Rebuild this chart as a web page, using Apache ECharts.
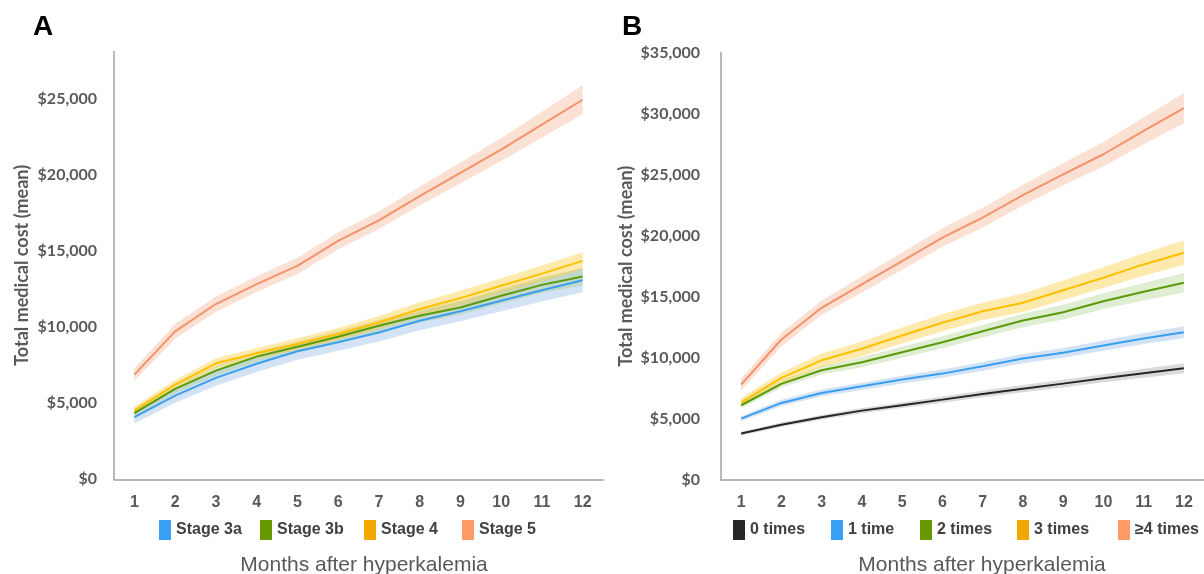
<!DOCTYPE html>
<html>
<head>
<meta charset="utf-8">
<script src="https://cdn.jsdelivr.net/npm/echarts@6/dist/echarts.min.js"></script>
<style>
html,body{margin:0;padding:0;background:#fff;}
#chart{width:1204px;height:574px;}
</style>
</head>
<body>
<div id="chart"></div>
<script>
// ---------- DATA ----------
const months = ['1','2','3','4','5','6','7','8','9','10','11','12'];
const yTicksA = [0, 5000, 10000, 15000, 20000, 25000];
const yTicksB = [0, 5000, 10000, 15000, 20000, 25000, 30000, 35000];

// Panel A: CKD stage
const stageNames = ['Stage 3a', 'Stage 3b', 'Stage 4', 'Stage 5'];
const stage3a = [4090, 5510, 6670, 7600, 8420, 9010, 9660, 10430, 11050, 11750, 12440, 13100];
const stage3b = [4350, 5950, 7150, 8070, 8720, 9380, 10100, 10760, 11300, 12070, 12790, 13340];
const stage4  = [4530, 6230, 7630, 8290, 8900, 9560, 10320, 11200, 11920, 12730, 13530, 14370];
const stage5  = [6890, 9730, 11530, 12840, 14040, 15680, 17040, 18630, 20160, 21690, 23330, 24970];
const ci3a = [420, 480, 520, 540, 560, 560, 600, 620, 650, 700, 750, 800];
const ci3b = [250, 300, 330, 350, 380, 400, 420, 450, 480, 500, 530, 560];
const ci4  = [260, 300, 330, 350, 380, 400, 420, 450, 480, 500, 530, 560];
const ci5  = [400, 480, 500, 520, 540, 550, 580, 620, 680, 750, 850, 960];

// Panel B: number of hyperkalemia episodes
const episodeNames = ['0 times', '1 time', '2 times', '3 times', '≥4 times'];
const times0 = [3800, 4530, 5130, 5680, 6120, 6580, 7050, 7480, 7890, 8330, 8740, 9150];
const times1 = [5020, 6310, 7130, 7670, 8220, 8710, 9310, 9940, 10410, 11010, 11580, 12100];
const times2 = [6120, 7870, 8990, 9640, 10460, 11280, 12180, 13060, 13740, 14640, 15410, 16150];
const times3 = [6360, 8360, 9800, 10740, 11830, 12870, 13820, 14510, 15540, 16560, 17650, 18610];
const times4 = [7810, 11500, 14100, 16010, 17920, 19840, 21480, 23330, 25030, 26670, 28580, 30440];
const ciT0 = [150, 170, 190, 210, 230, 250, 270, 290, 310, 330, 360, 400];
const ciT1 = [200, 250, 280, 300, 320, 340, 360, 380, 400, 420, 450, 480];
const ciT2 = [250, 300, 350, 400, 450, 500, 520, 550, 600, 650, 720, 800];
const ciT3 = [350, 450, 550, 600, 650, 700, 720, 750, 800, 850, 920, 1000];
const ciT4 = [480, 550, 600, 650, 700, 750, 800, 850, 900, 1000, 1100, 1230];

// ---------- STYLE ----------
const C = {
  blue:   {line:'#3A9FF0', legend:'#3AA0F5', band:'rgba(120,170,225,0.33)'},
  green:  {line:'#5B9B0A', legend:'#669900', band:'rgba(150,195,110,0.30)'},
  yellow: {line:'#FFC000', legend:'#F0A800', band:'rgba(255,205,60,0.42)'},
  salmon: {line:'#F4926A', legend:'#FF9966', band:'rgba(242,160,120,0.32)'},
  black:  {line:'#262626', legend:'#262626', band:'rgba(150,150,150,0.35)'}
};

function fmtMoney(v){
  return '$' + String(v).replace(/\B(?=(\d{3})+(?!\d))/g, ',');
}

function makeSeries(name, mean, ci, col, idx){
  return [
    {
      name: name + ' lower', type:'line', xAxisIndex:idx, yAxisIndex:idx,
      stack: 'band-' + name, data: mean.map((m,i)=>m-ci[i]),
      symbol:'none', lineStyle:{opacity:0}, silent:true, z:1, animation:false
    },
    {
      name: name + ' band', type:'line', xAxisIndex:idx, yAxisIndex:idx,
      stack: 'band-' + name, data: ci.map(c=>2*c),
      symbol:'none', lineStyle:{opacity:0}, areaStyle:{color:col.band, opacity:1},
      silent:true, z:1, animation:false
    },
    {
      name: name, type:'line', xAxisIndex:idx, yAxisIndex:idx, data: mean,
      symbol:'none', lineStyle:{width:2, color:col.line}, itemStyle:{color:col.legend},
      z:3, animation:false
    }
  ];
}

const groupA = [
  [stageNames[0], stage3a, ci3a, C.blue],
  [stageNames[1], stage3b, ci3b, C.green],
  [stageNames[2], stage4,  ci4,  C.yellow],
  [stageNames[3], stage5,  ci5,  C.salmon]
];
const groupB = [
  [episodeNames[0], times0, ciT0, C.black],
  [episodeNames[1], times1, ciT1, C.blue],
  [episodeNames[2], times2, ciT2, C.green],
  [episodeNames[3], times3, ciT3, C.yellow],
  [episodeNames[4], times4, ciT4, C.salmon]
];

let series = [];
groupA.forEach(g => series = series.concat(makeSeries(g[0], g[1], g[2], g[3], 0)));
groupB.forEach(g => series = series.concat(makeSeries(g[0], g[1], g[2], g[3], 1)));

const legendText = {fontFamily:'"Liberation Sans", Arial, sans-serif', fontWeight:'bold', fontSize:16, color:'#404040'};
const legendLeftA = [159, 260, 364, 462];
const legendLeftB = [733, 831, 920, 1017, 1118];
const legends = [];
groupA.forEach((g,i) => legends.push({
  data:[{name:g[0], icon:'rect'}], left:legendLeftA[i], top:520, padding:0,
  itemWidth:12, itemHeight:20, selectedMode:false, textStyle:legendText
}));
groupB.forEach((g,i) => legends.push({
  data:[{name:g[0], icon:'rect'}], left:legendLeftB[i], top:520, padding:0,
  itemWidth:12, itemHeight:20, selectedMode:false, textStyle:legendText
}));

const axisLineStyle = {show:true, lineStyle:{color:'#A0A0A0', width:1.5}};
const xLabel = {fontFamily:'"Liberation Sans", Arial, sans-serif', fontWeight:'bold', fontSize:16, color:'#595959', margin:15};
const yLabelFont = {fontFamily:'Lato, "Open Sans", sans-serif', fontWeight:'bold', fontSize:16, color:'#595959'};
const yNameFont = {fontFamily:'Lato, "Open Sans", sans-serif', fontWeight:'bold', fontSize:18, color:'#595959'};

function yFormatter(ticks){
  return v => ticks.indexOf(v) >= 0 ? fmtMoney(v) : '';
}

const option = {
  backgroundColor:'#ffffff',
  animation:false,
  grid:[
    {left:114, right:601, top:51.4, bottom:94.7, containLabel:false},
    {left:721, right:-14, top:52.5, bottom:94, containLabel:false}
  ],
  xAxis:[
    {type:'category', gridIndex:0, data:months, boundaryGap:true, axisLine:axisLineStyle,
     axisTick:{show:false}, axisLabel:xLabel, splitLine:{show:false}},
    {type:'category', gridIndex:1, data:months, boundaryGap:true, axisLine:axisLineStyle,
     axisTick:{show:false}, axisLabel:xLabel, splitLine:{show:false}}
  ],
  yAxis:[
    {type:'value', gridIndex:0, min:0, max:28150, interval:5000,
     axisLine:axisLineStyle, axisTick:{show:false}, splitLine:{show:false},
     axisLabel:Object.assign({margin:17, formatter:yFormatter(yTicksA), showMaxLabel:false}, yLabelFont),
     name:'Total medical cost (mean)', nameLocation:'middle', nameGap:83, nameTextStyle:yNameFont},
    {type:'value', gridIndex:1, min:0, max:35000, interval:5000,
     axisLine:axisLineStyle, axisTick:{show:false}, splitLine:{show:false},
     axisLabel:Object.assign({margin:21, formatter:yFormatter(yTicksB)}, yLabelFont),
     name:'Total medical cost (mean)', nameLocation:'middle', nameGap:86, nameTextStyle:yNameFont}
  ],
  legend: legends,
  graphic:[
    {type:'text', x:33, y:27, style:{text:'A', font:'bold 28px "Liberation Sans", Arial, sans-serif', fill:'#000', align:'left', verticalAlign:'middle'}},
    {type:'text', x:622, y:27, style:{text:'B', font:'bold 28px "Liberation Sans", Arial, sans-serif', fill:'#000', align:'left', verticalAlign:'middle'}},
    {type:'text', x:364, y:565, style:{text:'Months after hyperkalemia', font:'21px "Liberation Sans", Arial, sans-serif', fill:'#595959', align:'center', verticalAlign:'middle'}},
    {type:'text', x:982, y:565, style:{text:'Months after hyperkalemia', font:'21px "Liberation Sans", Arial, sans-serif', fill:'#595959', align:'center', verticalAlign:'middle'}}
  ],
  series: series
};

const chart = echarts.init(document.getElementById('chart'), null, {renderer:'canvas'});
chart.setOption(option);
</script>
</body>
</html>
